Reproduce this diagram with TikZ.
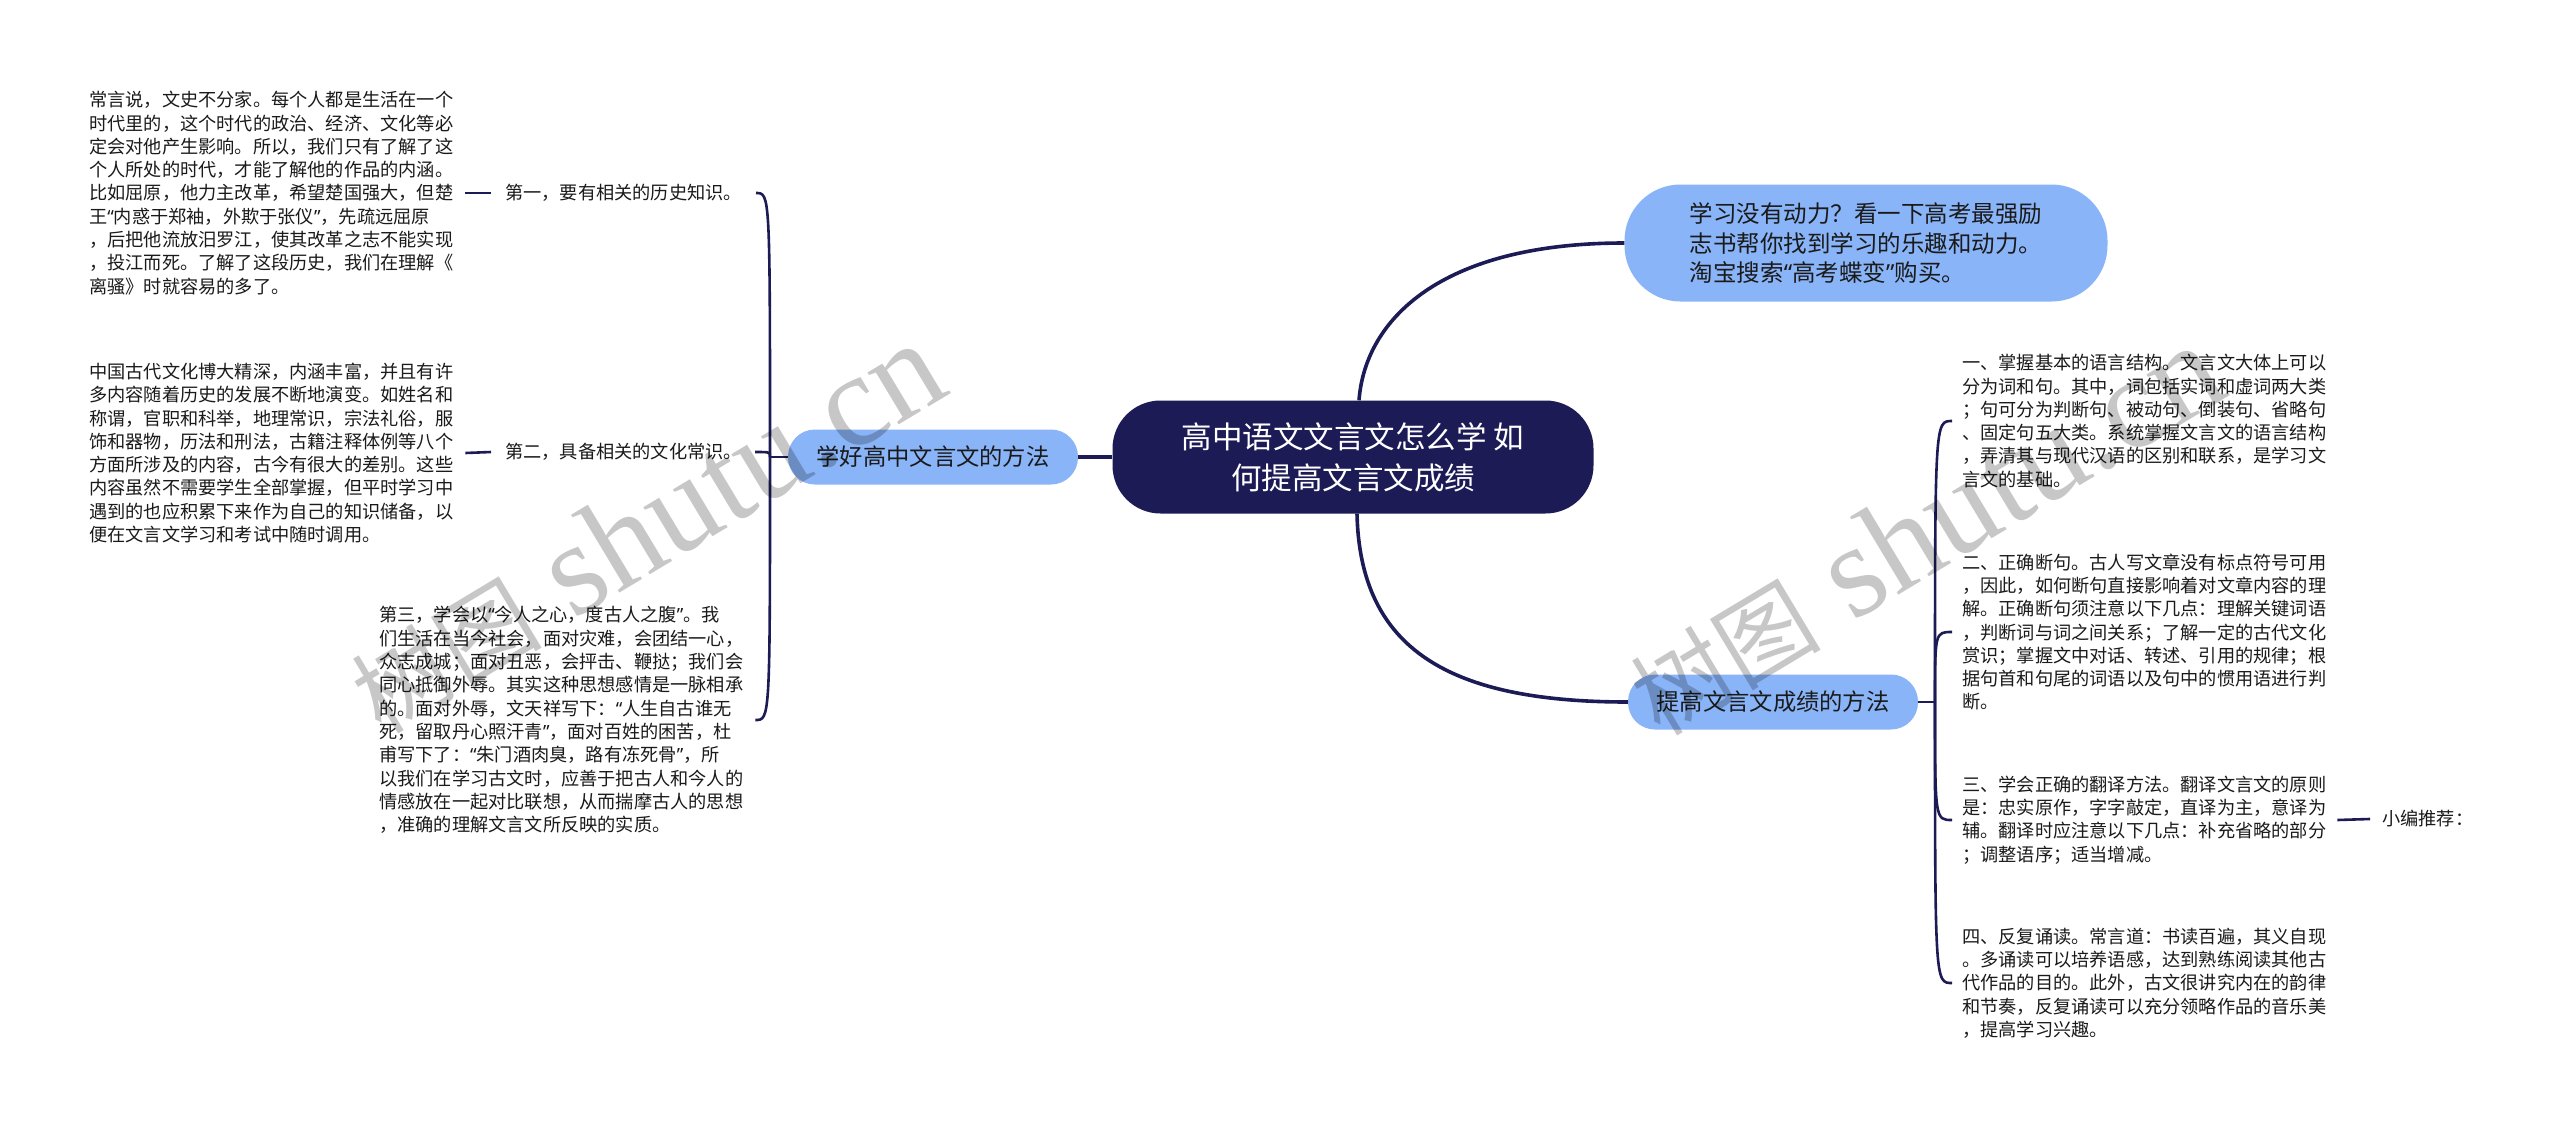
\documentclass[tikz,border=0pt]{standalone}
\usepackage{fontspec}
\newfontfamily\cjk{Noto Sans CJK SC}
\newfontfamily\latinq{Noto Sans}
\newfontfamily\wmserif{Liberation Serif}
\newcommand{\myldq}{{\latinq “}}
\newcommand{\myrdq}{{\latinq ”}}
\definecolor{navy}{HTML}{1C1B55}
\definecolor{lblue}{HTML}{8AB4F8}
\definecolor{txt}{HTML}{1A1A1A}
\begin{document}
\begin{tikzpicture}[x=1pt,y=-1pt,
  rootbox/.style={fill=navy, text=white, rounded corners=48pt, minimum width=481pt, minimum height=113pt, align=center, font=\fontsize{30.5}{41}\selectfont\cjk, inner sep=0pt},
  branchbox/.style={fill=lblue, text=txt, rounded corners=27pt, minimum width=290pt, minimum height=55pt, font=\fontsize{23.3}{29}\selectfont\cjk, inner sep=0pt},
  notebox/.style={fill=lblue, text=txt, rounded corners=56pt, minimum width=483pt, minimum height=117pt, align=left, font=\fontsize{23.5}{29.5}\selectfont\cjk, inner sep=0pt},
  detail/.style={text=txt, align=left, inner sep=0pt, font=\fontsize{18.2}{23.3}\selectfont\cjk},
  leaflabel/.style={text=txt, inner sep=0pt, font=\fontsize{18.2}{23.3}\selectfont\cjk},
  mainlink/.style={draw=navy, line width=3.6pt},
  sublink/.style={draw=navy, line width=2.6pt},
  watermark/.style={rotate=31, text=black, text opacity=0.22, inner sep=0pt}
]
\useasboundingbox (0,0) rectangle (2560,1130);
\fill[white] (0,0) rectangle (2560,1130);

% main nodes
\node[rootbox] (root) at (1353,457) {高中语文文言文怎么学 如\\何提高文言文成绩};
\node[branchbox] (lb) at (933,457) {学好高中文言文的方法};
\node[branchbox] (rb) at (1773,702) {提高文言文成绩的方法};
\node[notebox] (tr) at (1866,243) {学习没有动力？看一下高考最强励\\志书帮你找到学习的乐趣和动力。\\淘宝搜索\myldq 高考蝶变\myrdq 购买。};

% left side
\coordinate (BL) at (770,457);
\node[leaflabel, anchor=east] (l1) at (742,193) {第一，要有相关的历史知识。};
\node[leaflabel, anchor=east] (l2) at (742,452) {第二，具备相关的文化常识。};
\node[detail, anchor=west] (b1) at (89,193) {常言说，文史不分家。每个人都是生活在一个\\时代里的，这个时代的政治、经济、文化等必\\定会对他产生影响。所以，我们只有了解了这\\个人所处的时代，才能了解他的作品的内涵。\\比如屈原，他力主改革，希望楚国强大，但楚\\王\myldq 内惑于郑袖，外欺于张仪\myrdq ，先疏远屈原\\，后把他流放汨罗江，使其改革之志不能实现\\，投江而死。了解了这段历史，我们在理解《\\离骚》时就容易的多了。};
\node[detail, anchor=west] (b2) at (89,453) {中国古代文化博大精深，内涵丰富，并且有许\\多内容随着历史的发展不断地演变。如姓名和\\称谓，官职和科举，地理常识，宗法礼俗，服\\饰和器物，历法和刑法，古籍注释体例等八个\\方面所涉及的内容，古今有很大的差别。这些\\内容虽然不需要学生全部掌握，但平时学习中\\遇到的也应积累下来作为自己的知识储备，以\\便在文言文学习和考试中随时调用。};
\node[detail, anchor=west] (b3) at (379,720) {第三，学会以\myldq 今人之心，度古人之腹\myrdq 。我\\们生活在当今社会，面对灾难，会团结一心，\\众志成城；面对丑恶，会抨击、鞭挞；我们会\\同心抵御外辱。其实这种思想感情是一脉相承\\的。面对外辱，文天祥写下：\myldq 人生自古谁无\\死，留取丹心照汗青\myrdq ，面对百姓的困苦，杜\\甫写下了：\myldq 朱门酒肉臭，路有冻死骨\myrdq ，所\\以我们在学习古文时，应善于把古人和今人的\\情感放在一起对比联想，从而揣摩古人的思想\\，准确的理解文言文所反映的实质。};

% right side
\coordinate (BR) at (1935,702);
\node[detail, anchor=west] (r1) at (1962,421) {一、掌握基本的语言结构。文言文大体上可以\\分为词和句。其中，词包括实词和虚词两大类\\；句可分为判断句、被动句、倒装句、省略句\\、固定句五大类。系统掌握文言文的语言结构\\，弄清其与现代汉语的区别和联系，是学习文\\言文的基础。};
\node[detail, anchor=west] (r2) at (1962,632) {二、正确断句。古人写文章没有标点符号可用\\，因此，如何断句直接影响着对文章内容的理\\解。正确断句须注意以下几点：理解关键词语\\，判断词与词之间关系；了解一定的古代文化\\赏识；掌握文中对话、转述、引用的规律；根\\据句首和句尾的词语以及句中的惯用语进行判\\断。};
\node[detail, anchor=west] (r3) at (1962,820) {三、学会正确的翻译方法。翻译文言文的原则\\是：忠实原作，字字敲定，直译为主，意译为\\辅。翻译时应注意以下几点：补充省略的部分\\；调整语序；适当增减。};
\node[detail, anchor=west] (r4) at (1962,983) {四、反复诵读。常言道：书读百遍，其义自现\\。多诵读可以培养语感，达到熟练阅读其他古\\代作品的目的。此外，古文很讲究内在的韵律\\和节奏，反复诵读可以充分领略作品的音乐美\\，提高学习兴趣。};
\node[leaflabel, anchor=west] (xb) at (2382,819) {小编推荐：};

% connectors from root
\draw[mainlink] (root.west) -- (lb.east);
\draw[mainlink] ([xshift=6pt]root.north) .. controls (1365,320) and (1440,243) .. (tr.west);
\draw[mainlink] ([xshift=4pt]root.south) .. controls (1360,650) and (1450,702) .. (rb.west);

% left bracket
\coordinate (e1) at ([xshift=14pt]l1.east);
\coordinate (e2) at ([xshift=13pt]l2.east);
\coordinate (e3) at ([xshift=12pt]b3.east);
\draw[sublink] (lb.west) -- (BL);
\draw[sublink] (BL) .. controls (BL |- e1) .. (e1);
\draw[sublink] (BL) .. controls (BL |- e2) .. (e2);
\draw[sublink] (BL) .. controls (BL |- e3) .. (e3);
\draw[sublink] ([xshift=12pt]b1.east) -- ([xshift=-14pt]l1.west);
\draw[sublink] ([xshift=12pt]b2.east) -- ([xshift=-14pt]l2.west);

% right bracket
\coordinate (f1) at ([xshift=-10pt]r1.west);
\coordinate (f2) at ([xshift=-10pt]r2.west);
\coordinate (f3) at ([xshift=-10pt]r3.west);
\coordinate (f4) at ([xshift=-10pt]r4.west);
\draw[sublink] (rb.east) -- (BR);
\draw[sublink] (BR) .. controls (BR |- f1) .. (f1);
\draw[sublink] (BR) .. controls (BR |- f2) .. (f2);
\draw[sublink] (BR) .. controls (BR |- f3) .. (f3);
\draw[sublink] (BR) .. controls (BR |- f4) .. (f4);
\draw[sublink] ([xshift=11pt]r3.east) -- ([xshift=-12pt]xb.west);

% watermarks
\node[watermark] (wm1) at (646,528) {{\cjk\fontsize{95}{100}\selectfont 树图}{\wmserif\fontsize{132}{140}\selectfont\ shutu.cn}};
\node[watermark] (wm2) at (1925,530) {{\cjk\fontsize{95}{100}\selectfont 树图}{\wmserif\fontsize{132}{140}\selectfont\ shutu.cn}};
\end{tikzpicture}
\end{document}
